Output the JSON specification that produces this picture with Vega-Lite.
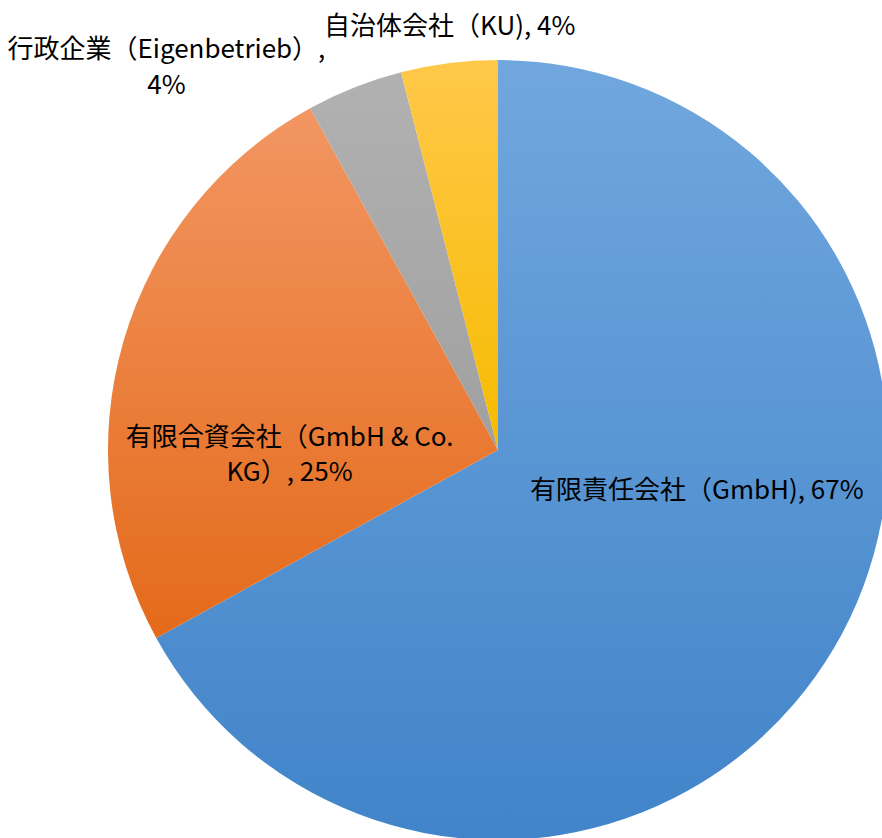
{
  "$schema": "https://vega.github.io/schema/vega-lite/v6.json",
  "autosize": "none",
  "width": 768,
  "height": 776,
  "padding": {"left": 114, "top": 62, "right": 0, "bottom": 0},
  "background": "white",
  "config": {"view": {"stroke": null}, "text": {"font": "Noto Sans CJK JP", "fontSize": 26, "color": "#000000"}},
  "data": {"values": [
    {"i": 1, "k": "GmbH", "v": 67, "label": "有限責任会社（GmbH), 67%"},
    {"i": 2, "k": "KG", "v": 25, "label": "有限合資会社（GmbH & Co.|KG）, 25%"},
    {"i": 3, "k": "Eigenbetrieb", "v": 4, "label": "行政企業（Eigenbetrieb）,|4%"},
    {"i": 4, "k": "KU", "v": 4, "label": "自治体会社（KU), 4%"}
  ]},
  "encoding": {
    "theta": {"field": "v", "type": "quantitative", "stack": true},
    "order": {"field": "i", "type": "quantitative", "sort": "ascending"},
    "detail": {"field": "k"}
  },
  "layer": [
    {
      "mark": {"type": "arc", "outerRadius": 390, "fill": {"gradient": "linear", "x1": 0, "y1": 0, "x2": 0, "y2": 1, "stops": [{"offset": 0, "color": "#71a7de"}, {"offset": 1, "color": "#4184c9"}]}},
      "encoding": {"fillOpacity": {"condition": {"test": "datum.k == 'GmbH'", "value": 1}, "value": 0}}
    },
    {
      "mark": {"type": "arc", "outerRadius": 390, "fill": {"gradient": "linear", "x1": 0, "y1": 0, "x2": 0, "y2": 1, "stops": [{"offset": 0, "color": "#f29662"}, {"offset": 1, "color": "#e46a1a"}]}},
      "encoding": {"fillOpacity": {"condition": {"test": "datum.k == 'KG'", "value": 1}, "value": 0}}
    },
    {
      "mark": {"type": "arc", "outerRadius": 390, "fill": {"gradient": "linear", "x1": 0, "y1": 0, "x2": 0, "y2": 1, "stops": [{"offset": 0, "color": "#b1b1b1"}, {"offset": 1, "color": "#a0a0a0"}]}},
      "encoding": {"fillOpacity": {"condition": {"test": "datum.k == 'Eigenbetrieb'", "value": 1}, "value": 0}}
    },
    {
      "mark": {"type": "arc", "outerRadius": 390, "fill": {"gradient": "linear", "x1": 0, "y1": 0, "x2": 0, "y2": 1, "stops": [{"offset": 0, "color": "#ffc84a"}, {"offset": 1, "color": "#f6bb00"}]}},
      "encoding": {"fillOpacity": {"condition": {"test": "datum.k == 'KU'", "value": 1}, "value": 0}}
    },
    {
      "mark": {"type": "text", "radius": 231, "dy": -77, "align": "center", "baseline": "middle"},
      "encoding": {"text": {"condition": {"test": "datum.k == 'GmbH'", "field": "label"}, "value": ""}}
    },
    {
      "mark": {"type": "text", "radius": 217, "dy": 49, "align": "center", "baseline": "middle", "lineBreak": "|", "lineHeight": 35},
      "encoding": {"text": {"condition": {"test": "datum.k == 'KG'", "field": "label"}, "value": ""}}
    },
    {
      "mark": {"type": "text", "radius": 420, "dx": -177, "dy": -9, "align": "center", "baseline": "middle", "lineBreak": "|", "lineHeight": 36},
      "encoding": {"text": {"condition": {"test": "datum.k == 'Eigenbetrieb'", "field": "label"}, "value": ""}}
    },
    {
      "mark": {"type": "text", "radius": 425, "dx": 5, "dy": -1, "align": "center", "baseline": "middle"},
      "encoding": {"text": {"condition": {"test": "datum.k == 'KU'", "field": "label"}, "value": ""}}
    }
  ]
}
